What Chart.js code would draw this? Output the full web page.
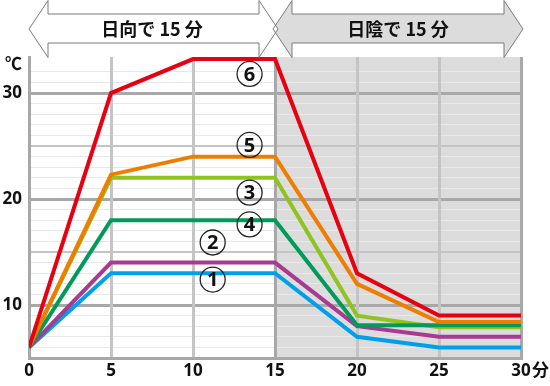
<!DOCTYPE html>
<html>
<head>
<meta charset="utf-8">
<script src="https://cdn.jsdelivr.net/npm/chart.js@4"></script>
<style>
  body { margin: 0; background: #fff; }
  #wrap { width: 550px; height: 386px; position: relative; }
</style>
</head>
<body>
<div id="wrap"><canvas id="temp-chart"></canvas></div>
<script>
// minutes
const minutes = [0, 5, 10, 15, 20, 25, 30];

// temperatures (℃) for each labelled line
const line1 = [6, 13, 13, 13, 7, 6, 6];
const line2 = [6, 14, 14, 14, 8, 7, 7];
const line3 = [6, 22, 22, 22, 9, 7.9, 7.9];
const line4 = [6, 18, 18, 18, 8.1, 8.1, 8.1];
const line5 = [6, 22.3, 24, 24, 12, 8.4, 8.4];
const line6 = [6, 30, 33.2, 33.2, 13, 9, 9];

const yTickLabels = [10, 20, 30];
const bandLabels = ['日向で 15 分', '日陰で 15 分'];
const markNames = ['1', '2', '3', '4', '5', '6'];
// where the circled numbers sit, in chart units [minute, ℃]
const markPlaces = [[11.2, 12.4], [11.2, 15.9], [13.45, 20.6], [13.45, 17.6], [13.45, 25.1], [13.45, 31.8]];

const toPts = arr => arr.map((v, i) => ({ x: minutes[i], y: v }));

const extras = {
  id: 'extras',
  beforeDraw(chart) {
    const { ctx, chartArea: a, scales: { x } } = chart;
    ctx.save();
    ctx.fillStyle = '#dcdcdc';
    ctx.fillRect(x.getPixelForValue(15), a.top, x.getPixelForValue(30) - x.getPixelForValue(15), a.bottom - a.top);
    ctx.restore();
  },
  afterDraw(chart) {
    const { ctx, scales: { x, y } } = chart;
    ctx.save();

    // double arrows above the plot
    const path = (x0, x1) => {
      const h = 19;
      ctx.beginPath();
      ctx.moveTo(x0, 29); ctx.lineTo(x0 + h, 0.5); ctx.lineTo(x0 + h, 14); ctx.lineTo(x1 - h, 14);
      ctx.lineTo(x1 - h, 0.5); ctx.lineTo(x1, 29); ctx.lineTo(x1 - h, 57.5); ctx.lineTo(x1 - h, 43);
      ctx.lineTo(x0 + h, 43); ctx.lineTo(x0 + h, 57.5); ctx.closePath();
    };
    const xa = x.getPixelForValue(0), xm = x.getPixelForValue(15), xb = x.getPixelForValue(30);
    path(xm - 2, xb + 2);
    ctx.fillStyle = '#dcdcdc';
    ctx.fill();
    path(xa, xm + 3);
    ctx.fillStyle = '#ffffff';
    ctx.fill();
    ctx.strokeStyle = '#7a7a7a';
    ctx.lineWidth = 1;
    path(xm - 2, xb + 2);
    ctx.stroke();
    path(xa, xm + 3);
    ctx.stroke();

    ctx.fillStyle = '#111';
    ctx.font = 'bold 18px "Noto Sans CJK JP"';
    ctx.textAlign = 'center';
    ctx.textBaseline = 'middle';
    ctx.fillText(bandLabels[0], (xa + xm) / 2, 29);
    ctx.fillText(bandLabels[1], (xm + xb) / 2, 29);

    // unit labels
    ctx.font = 'bold 17px "Noto Sans CJK JP"';
    ctx.textAlign = 'left';
    ctx.fillText('℃', 5, 64);
    ctx.fillText('分', xb + 11, 370);

    // circled numbers
    markNames.forEach((n, i) => {
      const cx = x.getPixelForValue(markPlaces[i][0]);
      const cy = y.getPixelForValue(markPlaces[i][1]);
      ctx.beginPath();
      ctx.arc(cx, cy, 12.5, 0, Math.PI * 2);
      ctx.strokeStyle = '#222';
      ctx.lineWidth = 1.3;
      ctx.stroke();
      ctx.fillStyle = '#111';
      ctx.font = 'bold 20px "Open Sans"';
      ctx.textAlign = 'center';
      ctx.textBaseline = 'middle';
      ctx.fillText(n, cx, cy + 1);
    });
    ctx.restore();
  }
};

const mk = (data, color, order) => ({
  data: toPts(data),
  borderColor: color,
  backgroundColor: color,
  borderWidth: 4,
  pointRadius: 0,
  tension: 0,
  order: order,
});

const config = {
  type: 'line',
  data: {
    datasets: [
      mk(line6, '#e60012', 1),
      mk(line5, '#ef7d00', 2),
      mk(line4, '#009a5a', 3),
      mk(line3, '#8fc31f', 4),
      mk(line2, '#a73b8f', 5),
      mk(line1, '#00a0e9', 6),
    ]
  },
  options: {
    responsive: true,
    maintainAspectRatio: false,
    animation: false,
    layout: { padding: { top: 57, right: 29, left: 0, bottom: 0 } },
    plugins: { legend: false, tooltip: { enabled: false } },
    scales: {
      x: {
        type: 'linear',
        min: 0,
        max: 30,
        afterFit: s => { s.height = 28; },
        border: { color: '#a8a8a8', width: 3 },
        grid: {
          z: -1,
          drawTicks: false,
          color: c => (c.tick && (c.tick.value === 15 || c.tick.value === 30)) ? '#a8a8a8' : '#c4c4c4',
          lineWidth: 3,
        },
        ticks: {
          stepSize: 5,
          padding: 3,
          color: '#111',
          font: { family: '"Open Sans"', size: 17, weight: 'bold' },
        }
      },
      y: {
        min: 5,
        max: 33.4,
        afterFit: s => { s.width = 29; },
        border: { color: '#a8a8a8', width: 3 },
        grid: {
          z: -2,
          drawTicks: false,
          color: c => {
            const v = c.tick ? c.tick.value : 0;
            if (!Number.isInteger(v)) return 'rgba(0,0,0,0)';
            if (v % 10 === 0) return '#a8a8a8';
            if (v % 5 === 0) return '#c4c4c4';
            return '#e8e8e8';
          },
          lineWidth: c => {
            const v = c.tick ? c.tick.value : 0;
            if (v % 10 === 0) return 3;
            if (v % 5 === 0) return 2;
            return 1;
          },
        },
        ticks: {
          stepSize: 1,
          padding: 7,
          autoSkip: false,
          color: '#111',
          font: { family: '"Open Sans"', size: 17, weight: 'bold' },
          callback: v => yTickLabels.includes(v) ? String(v) : '',
        }
      }
    }
  },
  plugins: [extras]
};

new Chart(document.getElementById('temp-chart'), config);
</script>
</body>
</html>
